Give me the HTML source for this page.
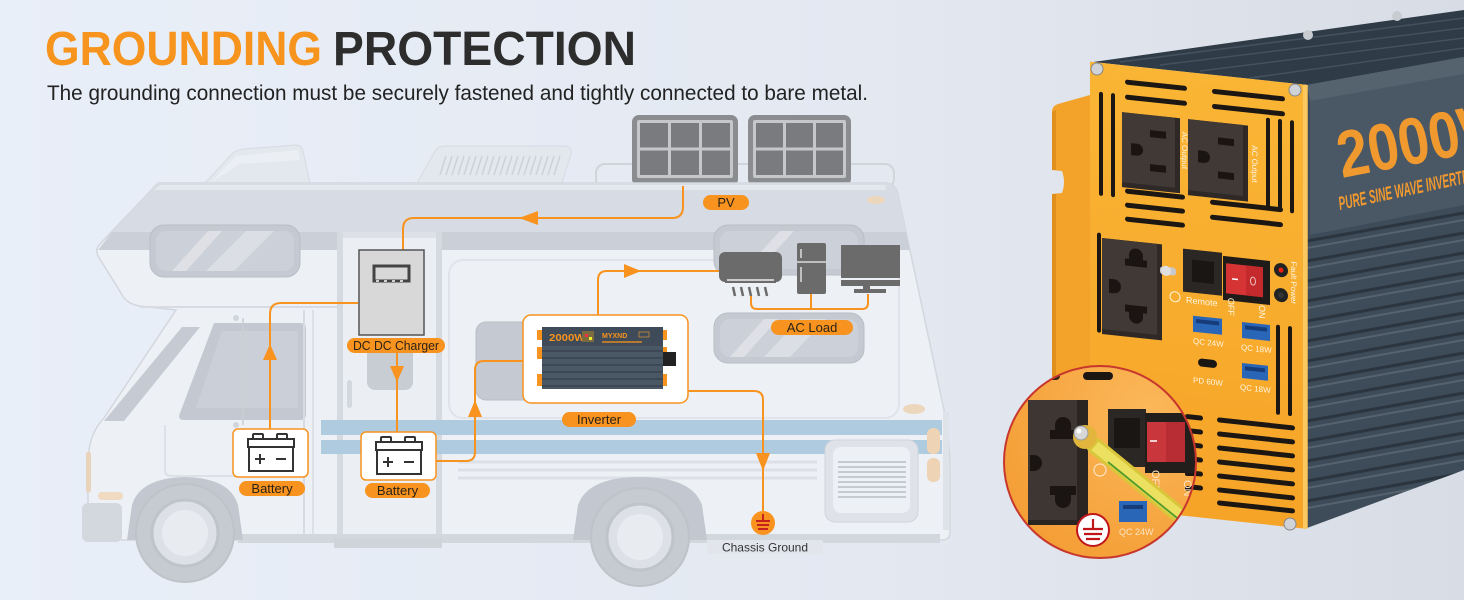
<!DOCTYPE html>
<html><head><meta charset="utf-8">
<style>
html,body{margin:0;padding:0;width:1464px;height:600px;overflow:hidden;background:#e6ecf5;}
svg{display:block;font-family:"Liberation Sans",Arial,sans-serif;}
</style></head><body>
<svg width="1464" height="600" viewBox="0 0 1464 600" xmlns="http://www.w3.org/2000/svg">
<defs>
 <linearGradient id="bg" x1="0" y1="0" x2="1" y2="0">
  <stop offset="0" stop-color="#e9eff8"/>
  <stop offset="0.6" stop-color="#e3e8f1"/>
  <stop offset="1" stop-color="#d8dde5"/>
 </linearGradient>
 <linearGradient id="face" x1="0" y1="0" x2="0" y2="1">
  <stop offset="0" stop-color="#fab535"/>
  <stop offset="1" stop-color="#f6a428"/>
 </linearGradient>
 <radialGradient id="mag" cx="0.7" cy="0.25" r="0.9">
  <stop offset="0" stop-color="#fbb85a"/>
  <stop offset="1" stop-color="#f39a30"/>
 </radialGradient>
 <clipPath id="circ"><circle cx="1100" cy="462" r="96"/></clipPath>
 <clipPath id="side"><polygon points="1307,85 1464,57 1464,470 1307,528"/></clipPath>
</defs>
<rect width="1464" height="600" fill="url(#bg)"/>

<!-- Title -->
<text x="45" y="65" font-size="48" font-weight="bold" fill="#f7941d" textLength="277" lengthAdjust="spacingAndGlyphs">GROUNDING</text>
<text x="333" y="65" font-size="48" font-weight="bold" fill="#2d2d2d" textLength="303" lengthAdjust="spacingAndGlyphs">PROTECTION</text>
<text x="47" y="100" font-size="21" fill="#222" textLength="821" lengthAdjust="spacingAndGlyphs">The grounding connection must be securely fastened and tightly connected to bare metal.</text>

<!-- Roof items -->
<path d="M205,183 L232,154 Q236,150 244,149 L296,145 Q302,145 303,151 L310,183 Z" fill="#e3e7ee" stroke="#d6dae1"/>
<path d="M210,183 L236,156 L298,150 L300,160 L240,164 Z" fill="#eef1f5" opacity="0.7"/>
<path d="M417,183 L435,151 Q438,146 445,146 L565,146 Q573,147 571,154 L562,183 Z" fill="#e3e7ee" stroke="#d6dae1"/>
<g stroke="#cdd1d8" stroke-width="1.5">
 <line x1="440" y1="175" x2="446" y2="156"/><line x1="446" y1="175" x2="452" y2="156"/><line x1="452" y1="175" x2="458" y2="156"/><line x1="458" y1="175" x2="464" y2="156"/><line x1="464" y1="175" x2="470" y2="156"/><line x1="470" y1="175" x2="476" y2="156"/><line x1="476" y1="175" x2="482" y2="156"/><line x1="482" y1="175" x2="488" y2="156"/><line x1="488" y1="175" x2="494" y2="156"/><line x1="494" y1="175" x2="500" y2="156"/><line x1="500" y1="175" x2="506" y2="156"/><line x1="506" y1="175" x2="512" y2="156"/><line x1="512" y1="175" x2="518" y2="156"/><line x1="518" y1="175" x2="524" y2="156"/><line x1="524" y1="175" x2="530" y2="156"/><line x1="530" y1="175" x2="536" y2="156"/><line x1="536" y1="175" x2="542" y2="156"/><line x1="542" y1="175" x2="548" y2="156"/><line x1="548" y1="175" x2="554" y2="156"/><line x1="554" y1="175" x2="560" y2="156"/>
</g>
<rect x="596" y="164" width="298" height="24" rx="9" fill="none" stroke="#d0d4db" stroke-width="2"/>
<!-- Solar panels -->
<rect x="632" y="115" width="106" height="71" rx="7" fill="#8a8c8f"/>
<rect x="637" y="120" width="96" height="58" rx="2" fill="#c5c7ca"/>
<g fill="#797b7e">
 <rect x="640" y="123" width="28" height="24.5"/><rect x="671" y="123" width="28" height="24.5"/><rect x="702" y="123" width="28" height="24.5"/>
 <rect x="640" y="150.5" width="28" height="24.5"/><rect x="671" y="150.5" width="28" height="24.5"/><rect x="702" y="150.5" width="28" height="24.5"/>
</g>
<rect x="748" y="115" width="103" height="71" rx="7" fill="#8a8c8f"/>
<rect x="753" y="120" width="93" height="58" rx="2" fill="#c5c7ca"/>
<g fill="#797b7e">
 <rect x="756" y="123" width="27" height="24.5"/><rect x="786" y="123" width="27" height="24.5"/><rect x="816" y="123" width="27" height="24.5"/>
 <rect x="756" y="150.5" width="27" height="24.5"/><rect x="786" y="150.5" width="27" height="24.5"/><rect x="816" y="150.5" width="27" height="24.5"/>
</g>

<!-- RV body -->
<path d="M158,183 L886,183 Q896,184 898,194 L944,410 Q950,440 950,470 L950,532 Q950,540 942,540 L122,540 L88,506 L88,458 Q90,432 104,418 L176,310 L140,306 Q126,304 121,293 L98,256 Q95,250 99,245 Z" fill="#edf0f5" stroke="#d3d7de" stroke-width="1.5"/>
<path d="M158,183 L886,183 Q896,184 898,194 L906,232 L112,232 Z" fill="#d7dbe3"/>
<path d="M160,185 L885,185 L886,190 L154,190 Z" fill="#e4e7ed"/>
<path d="M112,232 L906,232 L910,250 L98,250 Z" fill="#cbcfd7"/>
<line x1="140" y1="307" x2="337" y2="307" stroke="#d8dce2" stroke-width="2"/>
<rect x="449" y="260" width="450" height="158" rx="14" fill="none" stroke="#e0e4ea" stroke-width="2"/>
<!-- windows -->
<g>
 <rect x="150" y="225" width="150" height="52" rx="14" fill="#c5c9d1" stroke="#b9bdc5"/>
 <rect x="156" y="231" width="138" height="40" rx="10" fill="#ccd0d8"/>
 <path d="M172,271 L208,231 L222,231 L186,271 Z" fill="#fff" opacity="0.35"/>
 <path d="M206,271 L246,231 L274,231 L234,271 Z" fill="#fff" opacity="0.3"/>
</g>
<g>
 <rect x="714" y="225" width="150" height="50" rx="14" fill="#c5c9d1" stroke="#b9bdc5"/>
 <rect x="720" y="231" width="138" height="38" rx="10" fill="#ccd0d8"/>
 <path d="M745,269 L780,231 L794,231 L759,269 Z" fill="#fff" opacity="0.35"/>
</g>
<g>
 <rect x="714" y="313" width="150" height="50" rx="14" fill="#c5c9d1" stroke="#b9bdc5"/>
 <rect x="720" y="319" width="138" height="38" rx="10" fill="#ccd0d8"/>
 <path d="M730,357 L764,319 L778,319 L744,357 Z" fill="#fff" opacity="0.35"/>
 <path d="M764,357 L800,319 L826,319 L790,357 Z" fill="#fff" opacity="0.3"/>
</g>
<rect x="476" y="322" width="62" height="78" rx="10" fill="#c5c9d1" stroke="#b9bdc5"/>
<!-- door -->
<rect x="337" y="232" width="105" height="313" fill="#ebeef3"/>
<rect x="337" y="232" width="6" height="313" fill="#d5d9e0"/>
<rect x="436" y="232" width="6" height="313" fill="#d5d9e0"/>
<rect x="343" y="232" width="93" height="6" fill="#dde1e7"/>
<rect x="367" y="340" width="46" height="50" rx="8" fill="#c8ccd3"/>
<rect x="347" y="380" width="5" height="28" rx="2.5" fill="#d3d7de"/>
<!-- cab -->
<path d="M182,327 L200,327 L124,421 L104,421 Z" fill="#c6cad2"/>
<path d="M214,323 L300,323 Q306,323 306,329 L306,414 Q306,420 300,420 L184,420 Q177,420 180,413 Z" fill="#c4c8d0"/>
<path d="M222,331 L298,331 L298,408 L196,408 Z" fill="#cbcfd7"/>
<line x1="304" y1="310" x2="304" y2="540" stroke="#d8dce2" stroke-width="2"/>
<line x1="313" y1="310" x2="313" y2="540" stroke="#dde1e7" stroke-width="2"/>
<path d="M165,425 L165,472 Q166,476 172,476 L300,476" fill="none" stroke="#dde1e7" stroke-width="2"/>
<line x1="243" y1="318" x2="243" y2="425" stroke="#c9cdd4" stroke-width="1.5"/>
<circle cx="236" cy="318" r="3" fill="#d0d4db"/><circle cx="236" cy="425" r="3" fill="#d0d4db"/>
<rect x="86" y="452" width="5" height="40" rx="2" fill="#ead3bb"/>
<!-- stripes -->
<rect x="321" y="420" width="621" height="15" fill="#aecbe0"/>
<rect x="321" y="440" width="621" height="14" fill="#aecbe0"/>
<g stroke="#dde1e7" stroke-width="3">
 <line x1="458" y1="462" x2="817" y2="462"/><line x1="458" y1="470" x2="817" y2="470"/><line x1="458" y1="478" x2="817" y2="478"/>
</g>
<!-- vent grille -->
<rect x="825" y="440" width="93" height="82" rx="10" fill="#dfe3e9" stroke="#cfd3da"/>
<rect x="833" y="447" width="77" height="66" rx="8" fill="#edf0f4"/>
<g stroke="#c5c9d0" stroke-width="2">
 <line x1="838" y1="462" x2="906" y2="462"/><line x1="838" y1="467" x2="906" y2="467"/><line x1="838" y1="472" x2="906" y2="472"/><line x1="838" y1="477" x2="906" y2="477"/><line x1="838" y1="482" x2="906" y2="482"/><line x1="838" y1="487" x2="906" y2="487"/><line x1="838" y1="492" x2="906" y2="492"/><line x1="838" y1="497" x2="906" y2="497"/>
</g>
<rect x="927" y="428" width="13" height="26" rx="6" fill="#eed3b4"/>
<rect x="927" y="458" width="13" height="24" rx="6" fill="#eed3b4"/>
<rect x="943" y="412" width="6" height="118" fill="#dfe3e9"/>
<ellipse cx="876" cy="200" rx="9" ry="4" fill="#ecd6bc"/>
<ellipse cx="914" cy="409" rx="11" ry="5" fill="#ecd6bc"/>
<!-- skirt / step -->
<rect x="238" y="534" width="702" height="9" fill="#d2d6dd"/>
<rect x="334" y="538" width="108" height="10" fill="#cfd3da"/>
<!-- wheels -->
<path d="M127,540 L132,505 Q140,478 185,477 Q230,478 238,505 L243,540 Z" fill="#c3c7cf"/>
<path d="M573,540 L578,505 Q588,477 640,477 Q692,477 702,505 L707,540 Z" fill="#c3c7cf"/>
<circle cx="185" cy="533" r="49" fill="#c6cad1" stroke="#bec2c9" stroke-width="2"/>
<circle cx="185" cy="533" r="33" fill="#dde1e7" stroke="#bfc3ca" stroke-width="3"/>
<circle cx="185" cy="533" r="23" fill="#e8ecf1"/>
<circle cx="640" cy="537" r="49" fill="#c6cad1" stroke="#bec2c9" stroke-width="2"/>
<circle cx="640" cy="537" r="33" fill="#dde1e7" stroke="#bfc3ca" stroke-width="3"/>
<circle cx="640" cy="537" r="23" fill="#e8ecf1"/>
<rect x="82" y="503" width="40" height="39" rx="6" fill="#d3d7de"/>
<rect x="98" y="492" width="25" height="8" rx="4" fill="#f0dbc2"/>

<!-- Diagram overlay -->
<g fill="none" stroke="#f7931e" stroke-width="2">
 <path d="M683,186 V207 Q683,218 672,218 H414 Q403,218 403,229 V250"/>
 <path d="M358,303 H281 Q270,303 270,314 V430"/>
 <path d="M397,353 V432"/>
 <path d="M436,461 H466 Q475,461 475,452 V370 Q475,361 484,361 H524"/>
 <path d="M598,315 V280 Q598,271 607,271 H719"/>
 <path d="M751,295 V303 Q751,309 757,309 H862 Q868,309 868,303 V294"/>
 <path d="M811,294 V309"/>
 <path d="M688,391 H754 Q763,391 763,400 V511"/>
</g>
<g fill="#f7931e">
 <polygon points="519,218 538,211 538,225"/>
 <polygon points="270,344 263,360 277,360"/>
 <polygon points="397,382 390,366 404,366"/>
 <polygon points="475,400 468,417 482,417"/>
 <polygon points="641,271 624,264 624,278"/>
 <polygon points="763,471 756,453 770,453"/>
</g>
<!-- DC DC charger -->
<rect x="359" y="250" width="65" height="85" fill="#d8d8d8" stroke="#555" stroke-width="1.5"/>
<path d="M374,266 V281 H409 V266 Z" fill="none" stroke="#444" stroke-width="3"/>
<line x1="376" y1="281" x2="408" y2="281" stroke="#fff" stroke-width="1.5" stroke-dasharray="3 5"/>
<!-- Battery boxes -->
<g>
 <rect x="233" y="429" width="75" height="48" rx="5" fill="#fff" stroke="#f7931e" stroke-width="1.5"/>
 <g fill="none" stroke="#333" stroke-width="2">
  <rect x="253" y="434" width="10" height="5" rx="1"/><rect x="277" y="434" width="10" height="5" rx="1"/>
  <rect x="248" y="439" width="46" height="8"/>
  <path d="M249,447 V471 H293 V447"/>
  <path d="M255,459 H265 M260,454 V464 M276,459 H286"/>
 </g>
</g>
<g transform="translate(128,3)">
 <rect x="233" y="429" width="75" height="48" rx="5" fill="#fff" stroke="#f7931e" stroke-width="1.5"/>
 <g fill="none" stroke="#333" stroke-width="2">
  <rect x="253" y="434" width="10" height="5" rx="1"/><rect x="277" y="434" width="10" height="5" rx="1"/>
  <rect x="248" y="439" width="46" height="8"/>
  <path d="M249,447 V471 H293 V447"/>
  <path d="M255,459 H265 M260,454 V464 M276,459 H286"/>
 </g>
</g>
<!-- Inverter box -->
<rect x="523" y="315" width="165" height="88" rx="8" fill="#fff" stroke="#f7931e" stroke-width="1.5"/>
<g fill="#f7931e">
 <rect x="537" y="330" width="7" height="10"/><rect x="537" y="347" width="7" height="12"/><rect x="537" y="374" width="7" height="12"/>
 <rect x="661" y="330" width="6" height="10"/><rect x="661" y="347" width="6" height="12"/><rect x="661" y="374" width="6" height="12"/>
</g>
<rect x="542" y="327" width="121" height="62" fill="#4a5765"/>
<rect x="542" y="327" width="121" height="19" fill="#3f4b58"/>
<text x="549" y="341" font-size="10" font-weight="bold" fill="#f7931e" textLength="36" lengthAdjust="spacingAndGlyphs">2000W</text>
<rect x="582" y="331" width="12" height="11" fill="#7c6b3c"/>
<rect x="585" y="334" width="3" height="3" fill="#e34"/><rect x="589" y="337" width="3" height="3" fill="#ee3"/>
<text x="602" y="338" font-size="7" font-weight="bold" fill="#f7931e">MYXND</text>
<rect x="639" y="332" width="10" height="5" fill="none" stroke="#c98a3a" stroke-width="0.8"/>
<rect x="602" y="341" width="40" height="2" fill="#b57a30"/>
<g stroke="#39444f" stroke-width="1.5">
 <line x1="542" y1="351" x2="663" y2="351"/><line x1="542" y1="358" x2="663" y2="358"/><line x1="542" y1="365" x2="663" y2="365"/><line x1="542" y1="372" x2="663" y2="372"/><line x1="542" y1="379" x2="663" y2="379"/><line x1="542" y1="386" x2="663" y2="386"/>
</g>
<rect x="663" y="352" width="13" height="14" fill="#222"/>
<!-- AC loads -->
<rect x="719" y="252" width="63" height="30" rx="6" fill="#6b6b6b"/>
<rect x="725" y="278" width="51" height="5" fill="#6b6b6b"/>
<line x1="727" y1="280" x2="774" y2="280" stroke="#eee" stroke-width="1.5"/>
<g stroke="#6b6b6b" stroke-width="2.5">
 <line x1="733" y1="287" x2="735" y2="296"/><line x1="741" y1="287" x2="743" y2="296"/><line x1="749" y1="287" x2="751" y2="296"/><line x1="757" y1="287" x2="759" y2="296"/><line x1="765" y1="287" x2="767" y2="296"/>
</g>
<rect x="797" y="243" width="29" height="51" rx="2" fill="#6b6b6b"/>
<line x1="797" y1="262" x2="826" y2="262" stroke="#ddd" stroke-width="1.5"/>
<line x1="801" y1="249" x2="801" y2="258" stroke="#ddd" stroke-width="1.5"/>
<line x1="801" y1="267" x2="801" y2="282" stroke="#ddd" stroke-width="1.5"/>
<rect x="841" y="245" width="59" height="33" fill="#6b6b6b"/>
<rect x="841" y="280" width="59" height="6" fill="#6b6b6b"/>
<rect x="863" y="286" width="7" height="4" fill="#6b6b6b"/>
<rect x="854" y="289" width="32" height="4" fill="#6b6b6b"/>
<!-- Ground -->
<circle cx="763" cy="523" r="12" fill="#f7931e"/>
<g stroke="#c0161b" stroke-width="1.8">
 <line x1="763" y1="514" x2="763" y2="521"/><line x1="756" y1="521" x2="770" y2="521"/><line x1="757" y1="525" x2="769" y2="525"/><line x1="758" y1="529" x2="768" y2="529"/>
</g>
<rect x="707" y="540" width="116" height="14" fill="#e2e6ec"/>
<text x="765" y="551.5" font-size="12" fill="#333" text-anchor="middle">Chassis Ground</text>
<!-- Labels -->
<g fill="#f7931e">
 <rect x="703" y="195" width="46" height="15" rx="7.5"/>
 <rect x="347" y="338" width="98" height="15" rx="7.5"/>
 <rect x="239" y="481" width="66" height="15" rx="7.5"/>
 <rect x="365" y="483" width="65" height="15" rx="7.5"/>
 <rect x="562" y="412" width="74" height="15" rx="7.5"/>
 <rect x="771" y="320" width="82" height="15" rx="7.5"/>
</g>
<g font-size="13" fill="#2b2218" text-anchor="middle">
 <text x="726" y="207">PV</text>
 <text x="396" y="350" textLength="86" lengthAdjust="spacingAndGlyphs">DC DC Charger</text>
 <text x="272" y="493">Battery</text>
 <text x="397.5" y="495">Battery</text>
 <text x="599" y="424">Inverter</text>
 <text x="812" y="332">AC Load</text>
</g>

<!-- ===== Inverter product (right) ===== -->
<polygon points="1093,62 1464,10 1464,57 1307,85" fill="#2f3b47"/>
<g stroke="#44515e" stroke-width="1.5">
 <line x1="1120" y1="62" x2="1464" y2="18"/><line x1="1160" y1="65" x2="1464" y2="28"/><line x1="1200" y1="71" x2="1464" y2="38"/><line x1="1250" y1="78" x2="1464" y2="48"/>
</g>
<circle cx="1308" cy="35" r="5" fill="#c8ccd0"/><circle cx="1397" cy="16" r="5" fill="#c8ccd0"/>
<polygon points="1307,85 1464,57 1464,470 1307,528" fill="#3e4b58"/>
<g clip-path="url(#side)">
 <polygon points="1307,85 1464,57 1464,74 1310,101" fill="#55636f"/>
 <polygon points="1310,101 1464,74 1464,205 1310,235" fill="#4a5866"/>
 <g stroke="#56636f" stroke-width="2">
  <line x1="1307" y1="248" x2="1464" y2="220"/><line x1="1307" y1="268" x2="1464" y2="240"/><line x1="1307" y1="288" x2="1464" y2="260"/><line x1="1307" y1="308" x2="1464" y2="280"/><line x1="1307" y1="328" x2="1464" y2="300"/><line x1="1307" y1="348" x2="1464" y2="320"/><line x1="1307" y1="368" x2="1464" y2="340"/><line x1="1307" y1="388" x2="1464" y2="360"/><line x1="1307" y1="408" x2="1464" y2="380"/><line x1="1307" y1="428" x2="1464" y2="400"/><line x1="1307" y1="448" x2="1464" y2="420"/><line x1="1307" y1="468" x2="1464" y2="440"/><line x1="1307" y1="488" x2="1464" y2="460"/><line x1="1307" y1="508" x2="1464" y2="480"/>
 </g>
 <g stroke="#2a3540" stroke-width="3">
  <line x1="1307" y1="241" x2="1464" y2="213"/><line x1="1307" y1="261" x2="1464" y2="233"/><line x1="1307" y1="281" x2="1464" y2="253"/><line x1="1307" y1="301" x2="1464" y2="273"/><line x1="1307" y1="321" x2="1464" y2="293"/><line x1="1307" y1="341" x2="1464" y2="313"/><line x1="1307" y1="361" x2="1464" y2="333"/><line x1="1307" y1="381" x2="1464" y2="353"/><line x1="1307" y1="401" x2="1464" y2="373"/><line x1="1307" y1="421" x2="1464" y2="393"/><line x1="1307" y1="441" x2="1464" y2="413"/><line x1="1307" y1="461" x2="1464" y2="433"/><line x1="1307" y1="481" x2="1464" y2="453"/><line x1="1307" y1="501" x2="1464" y2="473"/>
 </g>
 <text x="1342" y="178" font-size="66" font-weight="bold" fill="#f0992e" textLength="176" lengthAdjust="spacingAndGlyphs" transform="rotate(-11 1342 178)">2000W</text>
 <text x="1340" y="210" font-size="19" font-weight="bold" font-style="italic" fill="#f0992e" textLength="140" lengthAdjust="spacingAndGlyphs" transform="rotate(-12 1340 210)">PURE SINE WAVE INVERTER</text>
</g>
<!-- bracket -->
<path d="M1090,95 L1058,104 Q1052,106 1052,112 L1052,170 L1062,171 Q1066,182 1062,193 L1052,194 L1052,377 L1090,380 Z" fill="#f3a32a"/>
<path d="M1052,112 L1052,170 L1056,170 L1056,110 Z M1052,194 L1052,377 L1056,377 L1056,194 Z" fill="#e08f1c"/>
<!-- face (skewed plane) -->
<g transform="matrix(1,0.107,0,1,0,-116.95)">
 <rect x="1090" y="62" width="217" height="444" fill="url(#face)"/>
 <rect x="1303" y="62" width="4" height="444" fill="#fcc860"/>
 <g fill="#1c1712">
  <rect x="1125" y="76" width="62" height="5" rx="2.5"/><rect x="1125" y="91" width="62" height="5" rx="2.5"/>
  <rect x="1212" y="76" width="73" height="5" rx="2.5"/><rect x="1212" y="91" width="73" height="5" rx="2.5"/>
  <rect x="1099" y="91" width="4" height="104" rx="2"/><rect x="1111" y="91" width="4" height="104" rx="2"/>
  <rect x="1266" y="99" width="4" height="93" rx="2"/><rect x="1278" y="99" width="4" height="93" rx="2"/><rect x="1290" y="99" width="4" height="93" rx="2"/>
  <rect x="1125" y="185" width="60" height="5" rx="2.5"/><rect x="1125" y="199" width="60" height="5" rx="2.5"/><rect x="1125" y="213" width="60" height="5" rx="2.5"/>
  <rect x="1210" y="187" width="73" height="5" rx="2.5"/><rect x="1210" y="202" width="73" height="5" rx="2.5"/>
  <rect x="1097" y="232" width="4" height="100" rx="2"/>
  <rect x="1276" y="305" width="4" height="90" rx="2"/><rect x="1288" y="305" width="4" height="90" rx="2"/>
  <rect x="1217" y="404" width="78" height="5" rx="2.5"/><rect x="1217" y="418" width="78" height="5" rx="2.5"/><rect x="1217" y="432" width="78" height="5" rx="2.5"/><rect x="1217" y="446" width="78" height="5" rx="2.5"/><rect x="1217" y="460" width="78" height="5" rx="2.5"/><rect x="1217" y="474" width="78" height="5" rx="2.5"/><rect x="1217" y="487" width="78" height="5" rx="2.5"/>
  <rect x="1185" y="404" width="18" height="5" rx="2.5"/><rect x="1185" y="418" width="18" height="5" rx="2.5"/><rect x="1185" y="432" width="18" height="5" rx="2.5"/><rect x="1185" y="446" width="18" height="5" rx="2.5"/><rect x="1185" y="460" width="18" height="5" rx="2.5"/><rect x="1185" y="474" width="18" height="5" rx="2.5"/>
 </g>
 <!-- AC outlets -->
 <rect x="1122" y="109" width="58" height="75" fill="#2e2926"/>
 <rect x="1122" y="109" width="53" height="70" fill="#403935"/>
 <rect x="1150" y="124" width="16" height="7" fill="#1a1512"/><rect x="1150" y="158" width="16" height="7" fill="#1a1512"/>
 <path d="M1131,139 h6 a6,6 0 0 1 0,12 h-6 Z" fill="#1a1512"/>
 <rect x="1188" y="109" width="60" height="76" fill="#2e2926"/>
 <rect x="1188" y="109" width="55" height="71" fill="#403935"/>
 <rect x="1218" y="124" width="16" height="7" fill="#1a1512"/><rect x="1218" y="158" width="16" height="7" fill="#1a1512"/>
 <path d="M1198,139 h6 a6,6 0 0 1 0,12 h-6 Z" fill="#1a1512"/>
 <g font-size="8" fill="#fff5e0">
  <text transform="translate(1182,122) rotate(90)">AC Output</text>
  <text transform="translate(1252,128) rotate(90)">AC Output</text>
 </g>
 <!-- universal outlet -->
 <rect x="1102" y="237" width="60" height="96" fill="#2e2926"/>
 <rect x="1102" y="237" width="55" height="91" fill="#403935"/>
 <path d="M1129,251 a7,7 0 0 1 14,0 v4 h4 v7 h-22 v-7 h4 Z" fill="#1a1512"/>
 <path d="M1129,301 h18 v7 h-4 v4 a7,7 0 0 1 -14,0 v-4 h-4 v-7 Z" fill="#1a1512"/>
 <path d="M1109,277 h5 a7,7 0 0 1 0,14 h-5 Z" fill="#1a1512"/>
 <rect x="1160" y="259" width="16" height="8" rx="3" fill="#c9c9c9"/>
 <circle cx="1166" cy="263" r="5" fill="#e0e0e0"/>
 <!-- RJ45 -->
 <rect x="1183" y="239" width="39" height="43" fill="#2b2724"/>
 <rect x="1192" y="249" width="22" height="22" fill="#1a1614"/>
 <!-- switch -->
 <rect x="1223" y="242" width="47" height="44" fill="#1f1b19"/>
 <rect x="1226" y="249" width="37" height="30" fill="#d63434"/>
 <rect x="1246" y="249" width="17" height="30" fill="#c42a2c"/>
 <line x1="1232" y1="264" x2="1238" y2="264" stroke="#fff" stroke-width="1.5"/>
 <ellipse cx="1253" cy="264" rx="2.5" ry="4" fill="none" stroke="#f0c0c0" stroke-width="1"/>
 <circle cx="1281" cy="250" r="7" fill="#222"/><circle cx="1281" cy="250" r="2.5" fill="#e21"/>
 <circle cx="1281" cy="275" r="7" fill="#222"/><circle cx="1281" cy="275" r="3" fill="#333"/>
 <g fill="#fff5e0" font-size="9">
  <text x="1186" y="293">Remote</text>
  <text transform="translate(1228,283) rotate(90)">OFF</text>
  <text transform="translate(1259,287) rotate(90)">ON</text>
  <text transform="translate(1291,240) rotate(90)" font-size="8">Fault  Power</text>
  <text x="1193" y="333" font-size="8">QC 24W</text>
  <text x="1241" y="334" font-size="8">QC 18W</text>
  <text x="1193" y="372" font-size="8">PD 60W</text>
  <text x="1240" y="374" font-size="8">QC 18W</text>
 </g>
 <circle cx="1175" cy="288" r="5" fill="none" stroke="#fff5e0" stroke-width="1"/>
 <!-- USB -->
 <rect x="1193" y="305" width="29" height="16" fill="#2a66b8"/><rect x="1196" y="308" width="23" height="4" fill="#163d7a"/>
 <rect x="1242" y="306" width="28" height="16" fill="#2a66b8"/><rect x="1245" y="309" width="22" height="4" fill="#163d7a"/>
 <rect x="1198" y="347" width="19" height="8" rx="4" fill="#1a1614"/>
 <rect x="1242" y="347" width="26" height="15" fill="#2a66b8"/><rect x="1245" y="350" width="20" height="4" fill="#163d7a"/>
</g>
<!-- screws -->
<circle cx="1097" cy="69" r="6" fill="#cfd2d6" stroke="#888" stroke-width="1"/>
<circle cx="1295" cy="90" r="6" fill="#cfd2d6" stroke="#888" stroke-width="1"/>
<circle cx="1290" cy="524" r="6" fill="#cfd2d6" stroke="#888" stroke-width="1"/>
<line x1="1307" y1="85" x2="1307" y2="528" stroke="#fcc45a" stroke-width="1.5"/>

<!-- Magnifier -->
<g clip-path="url(#circ)">
 <rect x="1000" y="360" width="210" height="210" fill="url(#mag)"/>
 <rect x="1083" y="372" width="30" height="8" rx="4" fill="#1c1712"/>
 <rect x="1010" y="372" width="50" height="8" rx="4" fill="#1c1712" opacity="0.9"/>
 <g fill="#1c1712">
  <rect x="1185" y="413" width="18" height="5" rx="2"/><rect x="1185" y="430" width="18" height="5" rx="2"/><rect x="1185" y="443" width="18" height="5" rx="2"/><rect x="1185" y="456" width="18" height="5" rx="2"/><rect x="1185" y="471" width="18" height="5" rx="2"/><rect x="1185" y="486" width="18" height="5" rx="2"/>
 </g>
 <rect x="1028" y="400" width="60" height="125" fill="#2b2522"/>
 <rect x="1028" y="400" width="49" height="120" fill="#3e3632"/>
 <path d="M1055,425 a8,8 0 0 1 16,0 v5 h5 v9 h-26 v-9 h5 Z" fill="#1a1512"/>
 <path d="M1050,486 h26 v9 h-5 v5 a8,8 0 0 1 -16,0 v-5 h-5 Z" fill="#1a1512"/>
 <path d="M1030,455 h4 a8,8 0 0 1 0,16 h-4 Z" fill="#1a1512"/>
 <rect x="1108" y="409" width="38" height="58" fill="#2b2724"/>
 <rect x="1114" y="418" width="26" height="30" fill="#1a1614"/>
 <rect x="1145" y="413" width="55" height="60" fill="#221e1c"/>
 <rect x="1147" y="422" width="38" height="40" fill="#c9363c"/>
 <rect x="1166" y="422" width="19" height="40" fill="#b82d33"/>
 <line x1="1150" y1="441" x2="1157" y2="441" stroke="#fff" stroke-width="1.5"/>
 <rect x="1119" y="501" width="28" height="21" fill="#2a66b8"/><rect x="1123" y="505" width="20" height="4" fill="#163d7a"/>
 <text x="1119" y="535" font-size="9" fill="#fde3c0">QC 24W</text>
 <text transform="translate(1152,470) rotate(90)" font-size="11" fill="#fde3c0">OFF</text>
 <text transform="translate(1184,480) rotate(90)" font-size="11" fill="#fde3c0">ON</text>
 <circle cx="1100" cy="470" r="6" fill="none" stroke="#fde3c0" stroke-width="1.2"/>
 <line x1="1095" y1="446" x2="1182" y2="517" stroke="#d9c63a" stroke-width="17" stroke-linecap="round"/>
 <line x1="1095" y1="446" x2="1182" y2="517" stroke="#ece060" stroke-width="11"/>
 <line x1="1108" y1="462" x2="1182" y2="522" stroke="#4e9a2a" stroke-width="1.8"/>
 <circle cx="1085" cy="437" r="12" fill="#e2b63c"/>
 <circle cx="1081" cy="433" r="7" fill="#d7d7d7" stroke="#999" stroke-width="1"/>
 <circle cx="1079" cy="431" r="2.5" fill="#fff"/>
 <circle cx="1093" cy="530" r="16" fill="#fff" stroke="#c0161b" stroke-width="2"/>
 <g stroke="#c0161b" stroke-width="2.2">
  <line x1="1093" y1="519" x2="1093" y2="529"/><line x1="1083" y1="529" x2="1103" y2="529"/><line x1="1084" y1="534" x2="1102" y2="534"/><line x1="1086" y1="539" x2="1100" y2="539"/>
 </g>
</g>
<circle cx="1100" cy="462" r="96" fill="none" stroke="#c8372d" stroke-width="2"/>
</svg>
</body></html>
